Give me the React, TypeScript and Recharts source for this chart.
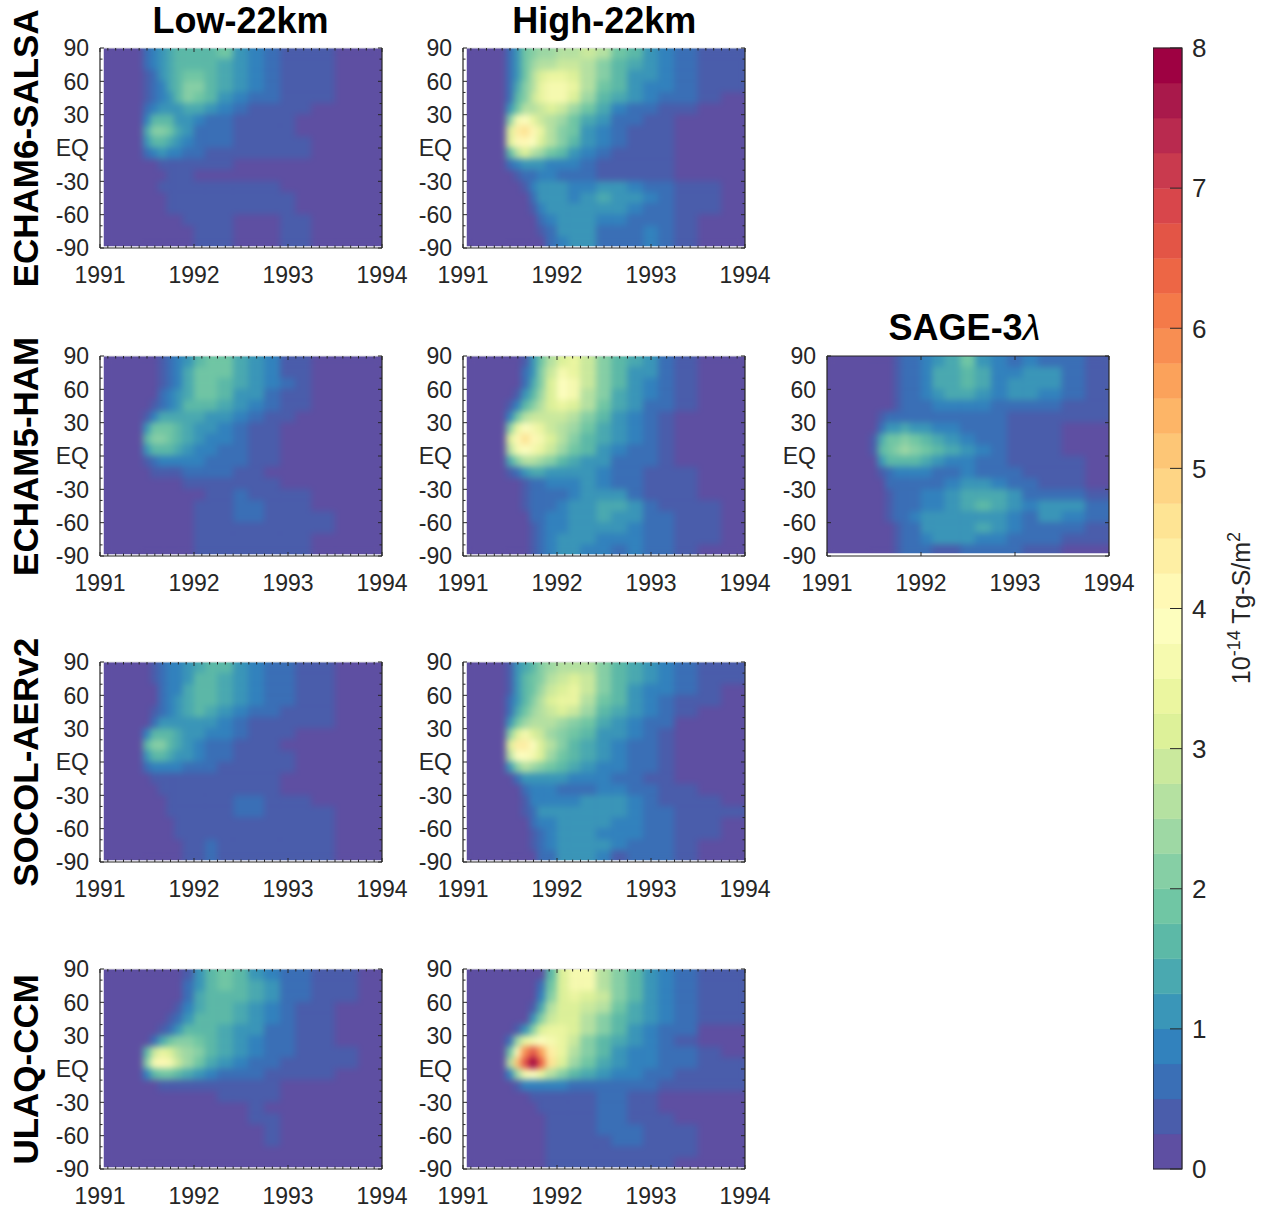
import React from "react";
import { ComposedChart, XAxis, YAxis, ReferenceArea } from "recharts";

const FONT = '"Liberation Sans", Arial, Helvetica, sans-serif';
const INK = "#262626";

// 32 contour levels, 0..8 in steps of 0.25 (x 1e-14 Tg-S/m2)
const LEVEL_STEP = 0.25;
const LEVEL_COLORS = [
  "#5e4fa2", "#4a5dab", "#3a6fb6", "#3282bd",
  "#3a96b8", "#4aa9b0", "#5cb9a7", "#70c6a4",
  "#86cfa5", "#9ed8a4", "#b5e1a1", "#cae99d",
  "#ddf199", "#ebf6a0", "#f6faaf", "#fdfebe",
  "#fff9b5", "#feefa4", "#fee494", "#fed585",
  "#fdc676", "#fdb567", "#fba25b", "#f88e52",
  "#f47a49", "#ed6645", "#e35546", "#d8464b",
  "#c93a4e", "#b92a4f", "#a9194b", "#9e0142",
];

// grid: column edges in time, row edges in latitude (north to south)
const TIME_EDGES = [
  1991.46, 1991.54, 1991.62, 1991.71, 1991.79, 1991.88, 1992.0, 1992.12, 1992.25,
  1992.42, 1992.58, 1992.75, 1992.92, 1993.08, 1993.25, 1993.5, 1993.75, 1994.0,
];
const LAT_EDGES = [90, 80, 70, 60, 50, 40, 30, 20, 10, 0, -10, -20, -30, -40, -50, -60, -70, -80, -88];

const YEAR_TICKS = [1991, 1992, 1993, 1994];
const LAT_TICKS = [-90, -60, -30, 0, 30, 60, 90];
const MONTH_TICKS = Array.from({ length: 37 }, (_, k) => 1991 + k / 12);
const LAT_MINOR_TICKS = Array.from({ length: 19 }, (_, k) => -90 + k * 10);
const CBAR_TICKS = [0, 1, 2, 3, 4, 5, 6, 7, 8];

const SALSA_LOW = [
  [0.5, 0.8, 1.2, 1.4, 1.5, 1.5, 1.5, 1.6, 1.8, 1.2, 0.8, 0.7, 0.4, 0.4, 0.4, 0.2, 0.1],
  [0.5, 0.8, 1.1, 1.4, 1.5, 1.6, 1.6, 1.5, 1.4, 1.1, 0.8, 0.7, 0.4, 0.4, 0.4, 0.2, 0.1],
  [0.4, 0.7, 1.0, 1.3, 1.6, 1.8, 1.8, 1.5, 1.3, 1.0, 0.8, 0.6, 0.4, 0.4, 0.3, 0.2, 0.1],
  [0.4, 0.6, 0.9, 1.3, 1.7, 2.0, 2.0, 1.6, 1.3, 1.0, 0.8, 0.6, 0.4, 0.4, 0.3, 0.2, 0.1],
  [0.4, 0.6, 0.9, 1.2, 1.6, 2.0, 1.9, 1.5, 1.2, 0.9, 0.6, 0.6, 0.4, 0.4, 0.3, 0.1, 0.1],
  [0.5, 0.8, 1.0, 1.0, 1.2, 1.4, 1.3, 1.0, 0.8, 0.5, 0.4, 0.4, 0.4, 0.4, 0.2, 0.1, 0.1],
  [0.9, 1.5, 1.6, 1.5, 1.2, 1.0, 0.8, 0.6, 0.5, 0.4, 0.4, 0.4, 0.3, 0.2, 0.1, 0.1, 0.1],
  [1.3, 2.0, 2.1, 1.8, 1.4, 1.0, 0.7, 0.6, 0.5, 0.4, 0.4, 0.4, 0.3, 0.2, 0.1, 0.1, 0.1],
  [1.0, 1.6, 1.6, 1.4, 1.2, 0.9, 0.7, 0.6, 0.5, 0.4, 0.4, 0.4, 0.4, 0.3, 0.2, 0.1, 0.1],
  [0.5, 0.8, 1.0, 0.9, 0.8, 0.7, 0.5, 0.4, 0.4, 0.4, 0.4, 0.4, 0.4, 0.3, 0.2, 0.1, 0.1],
  [0.1, 0.2, 0.35, 0.4, 0.4, 0.4, 0.4, 0.4, 0.3, 0.2, 0.1, 0.1, 0.1, 0.1, 0.1, 0.1, 0.1],
  [0.1, 0.1, 0.2, 0.4, 0.4, 0.3, 0.1, 0.1, 0.1, 0.1, 0.1, 0.1, 0.1, 0.1, 0.1, 0.1, 0.1],
  [0.1, 0.1, 0.25, 0.4, 0.4, 0.4, 0.4, 0.3, 0.4, 0.4, 0.4, 0.4, 0.2, 0.1, 0.1, 0.1, 0.1],
  [0.1, 0.1, 0.2, 0.35, 0.4, 0.4, 0.4, 0.4, 0.4, 0.4, 0.4, 0.4, 0.3, 0.1, 0.1, 0.1, 0.1],
  [0.1, 0.1, 0.1, 0.3, 0.4, 0.4, 0.4, 0.4, 0.4, 0.4, 0.4, 0.4, 0.4, 0.2, 0.1, 0.1, 0.1],
  [0.1, 0.1, 0.1, 0.1, 0.2, 0.3, 0.4, 0.4, 0.4, 0.2, 0.1, 0.1, 0.3, 0.3, 0.1, 0.1, 0.1],
  [0.1, 0.1, 0.1, 0.1, 0.1, 0.2, 0.4, 0.4, 0.4, 0.15, 0.1, 0.1, 0.3, 0.3, 0.1, 0.1, 0.1],
  [0.1, 0.1, 0.1, 0.1, 0.1, 0.1, 0.4, 0.4, 0.3, 0.1, 0.1, 0.1, 0.3, 0.3, 0.1, 0.1, 0.1],
];

const SALSA_HIGH = [
  [0.5, 1.2, 1.8, 2.1, 2.3, 2.4, 2.6, 2.7, 2.8, 2.6, 1.9, 1.5, 1.1, 0.9, 0.7, 0.4, 0.3],
  [0.5, 1.2, 1.9, 2.3, 2.5, 2.7, 2.9, 2.8, 2.6, 2.2, 1.7, 1.3, 1.0, 0.9, 0.7, 0.4, 0.3],
  [0.5, 1.2, 1.9, 2.5, 3.0, 3.3, 3.3, 3.0, 2.5, 2.0, 1.6, 1.2, 1.0, 0.8, 0.6, 0.4, 0.3],
  [0.6, 1.3, 2.0, 2.7, 3.3, 3.6, 3.7, 3.4, 2.6, 1.9, 1.5, 1.2, 0.9, 0.8, 0.6, 0.4, 0.3],
  [0.7, 1.5, 2.2, 2.8, 3.3, 3.6, 3.6, 3.2, 2.3, 1.7, 1.4, 1.1, 0.9, 0.7, 0.5, 0.35, 0.1],
  [1.0, 1.8, 2.5, 2.7, 2.9, 3.0, 2.8, 2.3, 1.8, 1.3, 0.9, 0.7, 0.6, 0.4, 0.3, 0.1, 0.1],
  [2.0, 3.5, 3.8, 3.4, 2.8, 2.5, 2.3, 1.9, 1.3, 1.0, 0.7, 0.5, 0.4, 0.4, 0.2, 0.1, 0.1],
  [3.2, 4.4, 4.6, 4.0, 3.3, 2.7, 2.2, 1.8, 1.2, 0.9, 0.6, 0.4, 0.4, 0.4, 0.15, 0.1, 0.1],
  [3.0, 4.2, 4.2, 3.8, 3.2, 2.5, 2.0, 1.6, 1.0, 0.8, 0.5, 0.4, 0.4, 0.4, 0.1, 0.1, 0.1],
  [1.5, 2.6, 3.0, 2.7, 2.3, 1.9, 1.5, 1.2, 0.9, 0.7, 0.45, 0.4, 0.4, 0.4, 0.1, 0.1, 0.1],
  [0.6, 0.8, 1.2, 1.2, 1.0, 0.9, 0.9, 0.8, 0.7, 0.45, 0.4, 0.4, 0.4, 0.4, 0.1, 0.1, 0.1],
  [0.1, 0.3, 0.6, 0.7, 0.8, 0.8, 0.7, 0.7, 0.5, 0.4, 0.4, 0.4, 0.4, 0.4, 0.1, 0.1, 0.1],
  [0.1, 0.1, 0.4, 0.9, 1.1, 1.2, 1.1, 0.9, 0.8, 1.1, 1.1, 0.9, 0.7, 0.5, 0.4, 0.4, 0.1],
  [0.1, 0.1, 0.2, 0.7, 1.0, 1.1, 1.0, 0.9, 1.1, 1.4, 1.2, 1.0, 0.8, 0.6, 0.4, 0.4, 0.2],
  [0.1, 0.1, 0.1, 0.4, 0.8, 1.0, 1.1, 1.1, 1.1, 1.2, 1.1, 0.9, 0.7, 0.6, 0.4, 0.35, 0.1],
  [0.1, 0.1, 0.1, 0.2, 0.6, 0.9, 1.1, 1.1, 1.0, 0.8, 0.8, 0.7, 0.7, 0.6, 0.4, 0.1, 0.1],
  [0.1, 0.1, 0.1, 0.1, 0.3, 0.7, 1.0, 1.1, 1.0, 0.7, 0.6, 0.6, 0.8, 0.6, 0.4, 0.1, 0.1],
  [0.1, 0.1, 0.1, 0.1, 0.2, 0.5, 0.9, 1.1, 1.0, 0.7, 0.6, 0.7, 0.9, 0.6, 0.4, 0.1, 0.1],
];

const HAM_LOW = [
  [0.1, 0.1, 0.3, 0.7, 0.9, 1.2, 1.6, 1.9, 1.8, 1.4, 1.1, 0.8, 0.45, 0.4, 0.1, 0.1, 0.1],
  [0.1, 0.1, 0.35, 0.7, 0.9, 1.3, 1.8, 1.9, 1.8, 1.4, 1.1, 0.8, 0.45, 0.4, 0.1, 0.1, 0.1],
  [0.1, 0.1, 0.4, 0.7, 0.9, 1.3, 1.8, 1.9, 1.7, 1.3, 1.0, 0.8, 0.5, 0.4, 0.1, 0.1, 0.1],
  [0.1, 0.2, 0.5, 0.8, 1.0, 1.4, 1.8, 1.9, 1.5, 1.2, 1.0, 0.7, 0.4, 0.4, 0.2, 0.1, 0.1],
  [0.1, 0.3, 0.6, 0.9, 1.2, 1.5, 1.7, 1.5, 1.3, 1.0, 0.8, 0.6, 0.4, 0.3, 0.1, 0.1, 0.1],
  [0.3, 0.9, 1.3, 1.3, 1.3, 1.4, 1.4, 1.2, 1.0, 0.8, 0.6, 0.4, 0.4, 0.2, 0.1, 0.1, 0.1],
  [1.0, 1.8, 1.9, 1.8, 1.6, 1.4, 1.2, 1.0, 0.9, 0.7, 0.45, 0.4, 0.1, 0.1, 0.1, 0.1, 0.1],
  [1.6, 2.1, 2.1, 1.9, 1.6, 1.4, 1.1, 0.9, 0.8, 0.6, 0.4, 0.4, 0.1, 0.1, 0.1, 0.1, 0.1],
  [1.1, 1.6, 1.7, 1.6, 1.4, 1.2, 0.9, 0.8, 0.7, 0.6, 0.4, 0.4, 0.1, 0.1, 0.1, 0.1, 0.1],
  [0.4, 0.7, 0.9, 0.9, 0.9, 0.8, 0.8, 0.7, 0.6, 0.55, 0.4, 0.3, 0.1, 0.1, 0.1, 0.1, 0.1],
  [0.1, 0.3, 0.4, 0.4, 0.45, 0.5, 0.5, 0.5, 0.5, 0.4, 0.4, 0.1, 0.1, 0.1, 0.1, 0.1, 0.1],
  [0.1, 0.1, 0.1, 0.1, 0.2, 0.3, 0.4, 0.4, 0.4, 0.4, 0.4, 0.3, 0.1, 0.1, 0.1, 0.1, 0.1],
  [0.1, 0.1, 0.1, 0.1, 0.1, 0.1, 0.1, 0.3, 0.4, 0.5, 0.45, 0.4, 0.4, 0.3, 0.1, 0.1, 0.1],
  [0.1, 0.1, 0.1, 0.1, 0.1, 0.1, 0.3, 0.4, 0.4, 0.6, 0.6, 0.4, 0.4, 0.4, 0.2, 0.1, 0.1],
  [0.1, 0.1, 0.1, 0.1, 0.1, 0.2, 0.4, 0.4, 0.4, 0.6, 0.55, 0.4, 0.4, 0.4, 0.3, 0.1, 0.1],
  [0.1, 0.1, 0.1, 0.1, 0.1, 0.2, 0.4, 0.4, 0.4, 0.4, 0.4, 0.4, 0.4, 0.4, 0.3, 0.1, 0.1],
  [0.1, 0.1, 0.1, 0.1, 0.1, 0.2, 0.4, 0.4, 0.4, 0.4, 0.4, 0.4, 0.4, 0.4, 0.2, 0.1, 0.1],
  [0.1, 0.1, 0.1, 0.1, 0.1, 0.2, 0.4, 0.4, 0.4, 0.4, 0.4, 0.4, 0.4, 0.4, 0.2, 0.1, 0.1],
];

const HAM_HIGH = [
  [0.1, 0.1, 0.4, 1.0, 1.8, 2.5, 3.2, 3.3, 2.8, 2.2, 1.7, 1.3, 1.0, 0.6, 0.4, 0.1, 0.1],
  [0.1, 0.1, 0.5, 1.2, 2.0, 2.8, 3.5, 3.4, 2.8, 2.2, 1.6, 1.2, 1.0, 0.6, 0.4, 0.1, 0.1],
  [0.1, 0.2, 0.7, 1.4, 2.2, 3.0, 3.8, 3.6, 2.8, 2.1, 1.5, 1.1, 0.9, 0.6, 0.4, 0.1, 0.1],
  [0.1, 0.4, 1.0, 1.6, 2.4, 3.1, 3.9, 3.6, 2.7, 2.0, 1.4, 1.1, 0.8, 0.6, 0.4, 0.1, 0.1],
  [0.3, 0.9, 1.5, 2.0, 2.6, 3.1, 3.4, 3.1, 2.5, 1.8, 1.3, 1.0, 0.7, 0.5, 0.4, 0.1, 0.1],
  [0.9, 1.8, 2.5, 2.8, 2.9, 2.9, 2.9, 2.6, 2.1, 1.6, 1.2, 0.9, 0.7, 0.45, 0.2, 0.1, 0.1],
  [2.2, 3.3, 3.8, 3.7, 3.3, 2.9, 2.6, 2.3, 1.9, 1.4, 1.1, 0.9, 0.7, 0.4, 0.1, 0.1, 0.1],
  [3.2, 4.1, 4.5, 4.2, 3.6, 3.0, 2.6, 2.2, 1.7, 1.3, 1.0, 0.8, 0.6, 0.4, 0.1, 0.1, 0.1],
  [2.7, 3.6, 3.9, 3.7, 3.3, 2.8, 2.3, 1.9, 1.5, 1.2, 0.9, 0.7, 0.6, 0.4, 0.1, 0.1, 0.1],
  [1.4, 2.2, 2.6, 2.6, 2.4, 2.1, 1.7, 1.4, 1.2, 1.0, 0.7, 0.6, 0.5, 0.4, 0.15, 0.1, 0.1],
  [0.3, 0.7, 1.1, 1.3, 1.3, 1.2, 1.1, 1.0, 1.0, 0.9, 0.6, 0.5, 0.4, 0.4, 0.3, 0.1, 0.1],
  [0.1, 0.2, 0.4, 0.6, 0.7, 0.8, 0.9, 0.9, 1.0, 0.9, 0.6, 0.5, 0.4, 0.4, 0.35, 0.1, 0.1],
  [0.1, 0.1, 0.3, 0.6, 0.7, 0.7, 0.7, 0.9, 1.1, 1.2, 1.1, 0.7, 0.4, 0.4, 0.4, 0.15, 0.1],
  [0.1, 0.1, 0.25, 0.6, 0.7, 0.7, 0.8, 1.0, 1.2, 1.4, 1.3, 1.0, 0.7, 0.4, 0.4, 0.3, 0.1],
  [0.1, 0.1, 0.2, 0.5, 0.7, 0.8, 0.8, 1.0, 1.2, 1.3, 1.2, 1.0, 0.7, 0.5, 0.4, 0.35, 0.1],
  [0.1, 0.1, 0.1, 0.4, 0.7, 0.9, 0.9, 1.0, 1.1, 1.1, 1.0, 0.9, 0.7, 0.55, 0.4, 0.3, 0.1],
  [0.1, 0.1, 0.1, 0.4, 0.6, 0.9, 1.0, 1.0, 1.0, 0.9, 0.8, 0.8, 0.6, 0.5, 0.4, 0.25, 0.1],
  [0.1, 0.1, 0.1, 0.3, 0.6, 0.9, 1.0, 1.0, 0.9, 0.8, 0.7, 0.9, 0.6, 0.5, 0.4, 0.2, 0.1],
];

const SAGE = [
  [0.1, 0.1, 0.1, 0.4, 0.6, 0.7, 0.9, 1.2, 1.3, 1.8, 1.2, 0.9, 0.7, 0.8, 0.7, 0.6, 0.3],
  [0.1, 0.1, 0.1, 0.4, 0.6, 0.7, 0.9, 1.3, 1.4, 1.7, 1.3, 0.9, 0.8, 1.1, 1.2, 0.6, 0.4],
  [0.1, 0.1, 0.1, 0.4, 0.5, 0.7, 0.9, 1.3, 1.4, 1.6, 1.3, 0.9, 1.1, 1.2, 1.1, 0.7, 0.4],
  [0.1, 0.1, 0.1, 0.4, 0.5, 0.7, 0.8, 1.1, 1.3, 1.3, 1.0, 0.8, 1.1, 1.2, 0.9, 0.6, 0.4],
  [0.1, 0.1, 0.1, 0.4, 0.5, 0.6, 0.7, 0.8, 0.9, 0.9, 0.8, 0.7, 0.6, 0.6, 0.5, 0.4, 0.4],
  [0.1, 0.3, 0.5, 0.6, 0.6, 0.6, 0.6, 0.7, 0.7, 0.7, 0.7, 0.6, 0.4, 0.4, 0.4, 0.4, 0.4],
  [0.2, 0.6, 1.0, 1.2, 1.3, 1.2, 1.1, 0.9, 0.8, 0.7, 0.7, 0.6, 0.4, 0.4, 0.3, 0.2, 0.2],
  [0.3, 1.4, 1.8, 1.9, 2.0, 1.9, 1.7, 1.4, 1.2, 0.9, 0.7, 0.6, 0.4, 0.4, 0.4, 0.2, 0.2],
  [0.4, 1.6, 1.9, 2.1, 2.3, 2.2, 1.9, 1.6, 1.3, 1.0, 0.8, 0.6, 0.4, 0.4, 0.4, 0.2, 0.2],
  [0.2, 1.0, 1.5, 1.7, 1.6, 1.5, 1.3, 1.0, 0.8, 0.9, 0.7, 0.6, 0.4, 0.4, 0.4, 0.3, 0.15],
  [0.1, 0.4, 0.7, 0.8, 0.8, 0.9, 0.8, 0.6, 0.7, 0.8, 0.7, 0.7, 0.6, 0.4, 0.4, 0.4, 0.15],
  [0.1, 0.2, 0.5, 0.6, 0.6, 0.7, 0.7, 0.7, 0.8, 1.0, 1.0, 0.8, 0.7, 0.6, 0.4, 0.4, 0.2],
  [0.1, 0.1, 0.4, 0.6, 0.6, 0.7, 0.8, 0.9, 1.0, 1.3, 1.4, 1.3, 1.0, 0.7, 0.6, 0.5, 0.4],
  [0.1, 0.1, 0.4, 0.5, 0.6, 0.7, 0.9, 0.9, 1.0, 1.3, 1.6, 1.3, 1.0, 0.8, 1.2, 1.0, 0.6],
  [0.1, 0.1, 0.3, 0.5, 0.6, 0.8, 1.0, 1.0, 1.0, 1.1, 1.1, 1.0, 0.8, 0.7, 1.1, 0.9, 0.5],
  [0.1, 0.1, 0.1, 0.4, 0.6, 0.7, 1.0, 1.1, 1.0, 1.2, 1.3, 1.2, 0.9, 0.7, 0.6, 0.5, 0.4],
  [0.1, 0.1, 0.1, 0.4, 0.6, 0.7, 0.9, 1.0, 1.0, 1.1, 0.9, 0.8, 0.7, 0.6, 0.5, 0.4, 0.3],
  [0.1, 0.1, 0.1, 0.3, 0.5, 0.6, 0.7, 0.4, 0.4, 0.7, 0.7, 0.7, 0.6, 0.4, 0.4, 0.2, 0.1],
];

const SOCOL_LOW = [
  [0.1, 0.4, 0.7, 0.8, 0.9, 1.2, 1.4, 1.6, 1.5, 1.2, 0.9, 0.7, 0.6, 0.4, 0.4, 0.1, 0.1],
  [0.1, 0.3, 0.7, 0.8, 0.9, 1.2, 1.5, 1.7, 1.4, 1.1, 0.9, 0.7, 0.6, 0.4, 0.4, 0.1, 0.1],
  [0.1, 0.2, 0.6, 0.8, 0.9, 1.3, 1.6, 1.6, 1.4, 1.1, 0.8, 0.7, 0.6, 0.4, 0.4, 0.1, 0.1],
  [0.1, 0.2, 0.5, 0.8, 1.0, 1.3, 1.7, 1.6, 1.3, 1.0, 0.8, 0.7, 0.55, 0.4, 0.4, 0.1, 0.1],
  [0.1, 0.3, 0.6, 0.8, 1.0, 1.3, 1.5, 1.3, 1.1, 0.9, 0.7, 0.6, 0.4, 0.4, 0.3, 0.1, 0.1],
  [0.2, 0.7, 1.0, 1.1, 1.1, 1.1, 1.1, 1.0, 0.9, 0.7, 0.45, 0.4, 0.4, 0.4, 0.3, 0.1, 0.1],
  [0.9, 1.5, 1.6, 1.5, 1.4, 1.1, 1.0, 0.9, 0.8, 0.6, 0.4, 0.4, 0.3, 0.1, 0.1, 0.1, 0.1],
  [1.5, 2.1, 2.0, 1.7, 1.4, 1.1, 0.9, 0.7, 0.6, 0.45, 0.4, 0.4, 0.2, 0.1, 0.1, 0.1, 0.1],
  [1.1, 1.6, 1.5, 1.4, 1.2, 1.0, 0.8, 0.6, 0.5, 0.4, 0.4, 0.4, 0.3, 0.1, 0.1, 0.1, 0.1],
  [0.5, 0.8, 0.9, 0.9, 0.8, 0.7, 0.6, 0.55, 0.4, 0.4, 0.4, 0.4, 0.3, 0.1, 0.1, 0.1, 0.1],
  [0.1, 0.3, 0.4, 0.4, 0.45, 0.45, 0.4, 0.4, 0.4, 0.4, 0.4, 0.3, 0.1, 0.1, 0.1, 0.1, 0.1],
  [0.1, 0.1, 0.3, 0.4, 0.4, 0.4, 0.4, 0.4, 0.4, 0.4, 0.4, 0.4, 0.2, 0.1, 0.1, 0.1, 0.1],
  [0.1, 0.1, 0.2, 0.4, 0.4, 0.4, 0.4, 0.4, 0.4, 0.5, 0.5, 0.4, 0.4, 0.35, 0.1, 0.1, 0.1],
  [0.1, 0.1, 0.1, 0.3, 0.4, 0.4, 0.4, 0.4, 0.4, 0.6, 0.6, 0.4, 0.4, 0.4, 0.35, 0.1, 0.1],
  [0.1, 0.1, 0.1, 0.2, 0.4, 0.4, 0.4, 0.4, 0.4, 0.45, 0.45, 0.4, 0.4, 0.4, 0.4, 0.1, 0.1],
  [0.1, 0.1, 0.1, 0.1, 0.3, 0.4, 0.4, 0.4, 0.4, 0.4, 0.4, 0.4, 0.4, 0.4, 0.35, 0.1, 0.1],
  [0.1, 0.1, 0.1, 0.1, 0.2, 0.4, 0.4, 0.55, 0.4, 0.4, 0.4, 0.4, 0.4, 0.4, 0.3, 0.1, 0.1],
  [0.1, 0.1, 0.1, 0.1, 0.1, 0.3, 0.4, 0.6, 0.4, 0.4, 0.4, 0.4, 0.4, 0.4, 0.3, 0.1, 0.1],
];

const SOCOL_HIGH = [
  [0.3, 1.0, 1.4, 1.7, 2.0, 2.3, 2.5, 2.7, 2.6, 2.2, 1.7, 1.3, 1.0, 0.8, 0.6, 0.4, 0.3],
  [0.4, 1.0, 1.5, 1.8, 2.1, 2.5, 2.9, 3.1, 2.8, 2.2, 1.7, 1.3, 1.0, 0.8, 0.6, 0.4, 0.3],
  [0.4, 1.0, 1.5, 1.9, 2.3, 2.8, 3.2, 3.3, 2.8, 2.1, 1.6, 1.2, 0.9, 0.8, 0.6, 0.4, 0.2],
  [0.5, 1.1, 1.7, 2.1, 2.5, 3.0, 3.4, 3.3, 2.7, 1.9, 1.5, 1.1, 0.9, 0.7, 0.45, 0.3, 0.1],
  [0.6, 1.3, 1.9, 2.3, 2.6, 2.9, 3.0, 2.8, 2.3, 1.7, 1.3, 1.0, 0.8, 0.6, 0.3, 0.1, 0.1],
  [1.0, 1.8, 2.3, 2.5, 2.5, 2.5, 2.4, 2.2, 1.8, 1.4, 1.1, 0.9, 0.7, 0.5, 0.1, 0.1, 0.1],
  [2.0, 3.2, 3.6, 3.2, 2.8, 2.4, 2.1, 1.8, 1.5, 1.2, 1.0, 0.8, 0.6, 0.45, 0.1, 0.1, 0.1],
  [3.0, 4.3, 4.4, 3.9, 3.2, 2.6, 2.1, 1.7, 1.4, 1.1, 0.9, 0.7, 0.6, 0.45, 0.1, 0.1, 0.1],
  [2.6, 3.8, 3.9, 3.5, 3.0, 2.4, 1.9, 1.6, 1.3, 1.1, 0.9, 0.7, 0.6, 0.4, 0.1, 0.1, 0.1],
  [1.2, 2.2, 2.5, 2.4, 2.2, 1.8, 1.5, 1.3, 1.1, 0.9, 0.8, 0.6, 0.5, 0.4, 0.2, 0.1, 0.1],
  [0.2, 0.7, 1.1, 1.2, 1.2, 1.1, 1.0, 0.9, 0.9, 0.8, 0.7, 0.6, 0.45, 0.4, 0.2, 0.1, 0.1],
  [0.1, 0.2, 0.6, 0.8, 0.8, 0.8, 0.6, 0.6, 0.7, 0.8, 0.8, 0.6, 0.5, 0.4, 0.4, 0.2, 0.1],
  [0.1, 0.1, 0.4, 0.8, 0.9, 0.9, 0.8, 0.9, 1.1, 1.1, 1.0, 0.8, 0.6, 0.4, 0.4, 0.4, 0.2],
  [0.1, 0.1, 0.3, 0.7, 1.0, 1.1, 1.0, 1.1, 1.2, 1.2, 1.1, 0.8, 0.6, 0.5, 0.4, 0.4, 0.3],
  [0.1, 0.1, 0.2, 0.6, 0.8, 0.9, 1.0, 1.1, 1.1, 1.0, 0.9, 0.8, 0.6, 0.5, 0.4, 0.35, 0.1],
  [0.1, 0.1, 0.1, 0.4, 0.7, 0.9, 1.1, 1.1, 1.1, 0.9, 0.8, 0.8, 0.7, 0.5, 0.4, 0.3, 0.1],
  [0.1, 0.1, 0.1, 0.3, 0.6, 0.8, 1.1, 1.2, 1.1, 1.0, 0.8, 0.7, 0.7, 0.5, 0.4, 0.2, 0.1],
  [0.1, 0.1, 0.1, 0.1, 0.5, 0.7, 1.1, 1.2, 1.1, 0.8, 0.4, 0.7, 0.7, 0.6, 0.4, 0.2, 0.1],
];

const ULAQ_LOW = [
  [0.1, 0.1, 0.1, 0.1, 0.1, 0.4, 1.1, 1.6, 1.9, 1.6, 1.2, 0.9, 0.7, 0.6, 0.4, 0.4, 0.1],
  [0.1, 0.1, 0.1, 0.1, 0.1, 0.5, 1.2, 1.7, 1.9, 1.6, 1.3, 1.0, 0.7, 0.6, 0.4, 0.4, 0.15],
  [0.1, 0.1, 0.1, 0.1, 0.1, 0.6, 1.3, 1.6, 1.7, 1.6, 1.3, 1.0, 0.7, 0.55, 0.4, 0.4, 0.2],
  [0.1, 0.1, 0.1, 0.1, 0.3, 0.9, 1.4, 1.6, 1.6, 1.4, 1.2, 0.9, 0.7, 0.45, 0.4, 0.1, 0.1],
  [0.1, 0.1, 0.1, 0.3, 0.7, 1.2, 1.6, 1.6, 1.5, 1.3, 1.1, 0.8, 0.6, 0.4, 0.35, 0.1, 0.1],
  [0.1, 0.1, 0.3, 0.7, 1.1, 1.5, 1.7, 1.6, 1.4, 1.2, 1.0, 0.7, 0.55, 0.4, 0.35, 0.1, 0.1],
  [0.2, 0.7, 1.3, 1.8, 2.0, 2.0, 1.9, 1.6, 1.3, 1.1, 0.9, 0.7, 0.5, 0.4, 0.4, 0.1, 0.1],
  [1.6, 2.8, 3.3, 3.0, 2.6, 2.3, 2.0, 1.6, 1.3, 1.0, 0.8, 0.6, 0.5, 0.4, 0.4, 0.3, 0.1],
  [2.2, 3.6, 4.2, 3.7, 2.9, 2.3, 1.8, 1.4, 1.1, 0.9, 0.7, 0.6, 0.45, 0.4, 0.4, 0.35, 0.1],
  [0.8, 1.6, 1.9, 1.8, 1.6, 1.3, 1.0, 0.8, 0.7, 0.6, 0.5, 0.4, 0.4, 0.4, 0.3, 0.1, 0.1],
  [0.1, 0.2, 0.4, 0.4, 0.45, 0.4, 0.4, 0.4, 0.4, 0.4, 0.4, 0.4, 0.2, 0.1, 0.1, 0.1, 0.1],
  [0.1, 0.1, 0.1, 0.1, 0.1, 0.1, 0.1, 0.2, 0.35, 0.4, 0.4, 0.3, 0.1, 0.1, 0.1, 0.1, 0.1],
  [0.1, 0.1, 0.1, 0.1, 0.1, 0.1, 0.1, 0.1, 0.1, 0.2, 0.4, 0.2, 0.1, 0.1, 0.1, 0.1, 0.1],
  [0.1, 0.1, 0.1, 0.1, 0.1, 0.1, 0.1, 0.1, 0.1, 0.1, 0.35, 0.3, 0.1, 0.1, 0.1, 0.1, 0.1],
  [0.1, 0.1, 0.1, 0.1, 0.1, 0.1, 0.1, 0.1, 0.1, 0.1, 0.2, 0.4, 0.1, 0.1, 0.1, 0.1, 0.1],
  [0.1, 0.1, 0.1, 0.1, 0.1, 0.1, 0.1, 0.1, 0.1, 0.1, 0.1, 0.35, 0.1, 0.1, 0.1, 0.1, 0.1],
  [0.1, 0.1, 0.1, 0.1, 0.1, 0.1, 0.1, 0.1, 0.1, 0.1, 0.1, 0.1, 0.1, 0.1, 0.1, 0.1, 0.1],
  [0.1, 0.1, 0.1, 0.1, 0.1, 0.1, 0.1, 0.1, 0.1, 0.1, 0.1, 0.1, 0.1, 0.1, 0.1, 0.1, 0.1],
];

const ULAQ_HIGH = [
  [0.1, 0.1, 0.1, 0.1, 0.2, 1.5, 3.0, 3.6, 3.7, 2.6, 2.0, 1.5, 1.2, 0.9, 0.5, 0.4, 0.4],
  [0.1, 0.1, 0.1, 0.1, 0.5, 1.8, 3.1, 3.5, 3.5, 2.7, 2.1, 1.5, 1.2, 0.9, 0.6, 0.4, 0.4],
  [0.1, 0.1, 0.1, 0.1, 0.9, 2.2, 3.1, 3.3, 3.1, 2.8, 2.0, 1.5, 1.1, 0.8, 0.6, 0.4, 0.4],
  [0.1, 0.1, 0.1, 0.3, 1.4, 2.6, 3.1, 3.1, 2.9, 2.6, 1.9, 1.4, 1.0, 0.8, 0.6, 0.4, 0.4],
  [0.1, 0.1, 0.2, 1.0, 2.1, 2.9, 3.2, 3.1, 2.7, 2.2, 1.7, 1.3, 1.0, 0.8, 0.6, 0.4, 0.4],
  [0.1, 0.3, 1.2, 2.2, 3.0, 3.3, 3.3, 3.0, 2.5, 2.0, 1.5, 1.1, 0.9, 0.7, 0.5, 0.2, 0.2],
  [0.6, 2.3, 3.4, 3.7, 3.8, 3.6, 3.3, 2.8, 2.2, 1.7, 1.3, 1.0, 0.8, 0.6, 0.45, 0.2, 0.2],
  [1.8, 4.2, 5.8, 6.5, 5.6, 4.3, 3.3, 2.6, 2.0, 1.5, 1.1, 0.9, 0.8, 0.7, 0.6, 0.4, 0.2],
  [2.5, 5.0, 6.6, 7.9, 6.4, 4.6, 3.2, 2.3, 1.8, 1.4, 1.1, 0.9, 0.8, 0.7, 0.6, 0.4, 0.4],
  [0.8, 2.3, 3.6, 3.8, 3.4, 2.7, 2.1, 1.6, 1.3, 1.0, 0.9, 0.8, 0.7, 0.6, 0.45, 0.4, 0.4],
  [0.1, 0.4, 0.8, 0.9, 0.9, 0.9, 0.8, 0.7, 0.6, 0.6, 0.7, 0.6, 0.5, 0.4, 0.4, 0.4, 0.35],
  [0.1, 0.1, 0.2, 0.4, 0.4, 0.4, 0.4, 0.4, 0.4, 0.6, 0.5, 0.4, 0.4, 0.2, 0.1, 0.1, 0.1],
  [0.1, 0.1, 0.1, 0.1, 0.3, 0.4, 0.4, 0.4, 0.4, 0.6, 0.6, 0.4, 0.3, 0.1, 0.1, 0.1, 0.1],
  [0.1, 0.1, 0.1, 0.1, 0.2, 0.4, 0.4, 0.4, 0.4, 0.5, 0.6, 0.4, 0.4, 0.25, 0.2, 0.1, 0.1],
  [0.1, 0.1, 0.1, 0.1, 0.2, 0.35, 0.4, 0.4, 0.4, 0.5, 0.7, 0.5, 0.4, 0.4, 0.3, 0.1, 0.1],
  [0.1, 0.1, 0.1, 0.1, 0.1, 0.3, 0.4, 0.4, 0.4, 0.4, 0.6, 0.5, 0.4, 0.4, 0.3, 0.1, 0.1],
  [0.1, 0.1, 0.1, 0.1, 0.1, 0.3, 0.4, 0.4, 0.4, 0.4, 0.4, 0.4, 0.4, 0.4, 0.25, 0.1, 0.1],
  [0.1, 0.1, 0.1, 0.1, 0.1, 0.3, 0.4, 0.4, 0.4, 0.4, 0.4, 0.4, 0.4, 0.4, 0.2, 0.1, 0.1],
];

// panel geometry
const PLOT_W = 282;
const PLOT_H = 200;
const M_LEFT = 72;
const M_TOP = 20;
const M_RIGHT = 34;
const M_BOTTOM = 46;
const CHART_W = M_LEFT + PLOT_W + M_RIGHT;
const CHART_H = M_TOP + PLOT_H + M_BOTTOM;
const TICK_FONT = 23;

const COL_LEFT = [99.5, 463.3, 826.5];
const ROW_TOP = [48.3, 356.3, 662.3, 969.3];

const levelColor = (v: number) =>
  LEVEL_COLORS[Math.min(LEVEL_COLORS.length - 1, Math.max(0, Math.floor(v / LEVEL_STEP)))];

const isWhole = (v: number, step: number) => Math.abs(v / step - Math.round(v / step)) < 1e-6;

const bottomTick = (props: any) => {
  const { x, payload } = props;
  const v = payload.value;
  const major = isWhole(v, 1);
  const y0 = M_TOP + PLOT_H;
  return (
    <g>
      <line x1={x} x2={x} y1={y0} y2={y0 - (major ? 4 : 2.5)} stroke={INK} strokeWidth={1} />
      {major && (
        <text x={x} y={y0 + 35} textAnchor="middle" fontSize={TICK_FONT} fill={INK} fontFamily={FONT}>
          {Math.round(v)}
        </text>
      )}
    </g>
  );
};

const topTick = (props: any) => {
  const { x, payload } = props;
  const major = isWhole(payload.value, 1);
  return <line x1={x} x2={x} y1={M_TOP} y2={M_TOP + (major ? 4 : 2.5)} stroke={INK} strokeWidth={1} />;
};

const leftTick = (props: any) => {
  const { y, payload } = props;
  const v = payload.value;
  const major = isWhole(v, 30);
  return (
    <g>
      <line x1={M_LEFT} x2={M_LEFT + (major ? 4 : 2.5)} y1={y} y2={y} stroke={INK} strokeWidth={1} />
      {major && (
        <text x={M_LEFT - 11} y={y} dy="0.36em" textAnchor="end" fontSize={TICK_FONT} fill={INK} fontFamily={FONT}>
          {v === 0 ? "EQ" : v}
        </text>
      )}
    </g>
  );
};

const rightTick = (props: any) => {
  const { y, payload } = props;
  const major = isWhole(payload.value, 30);
  const x0 = M_LEFT + PLOT_W;
  return <line x1={x0} x2={x0 - (major ? 4 : 2.5)} y1={y} y2={y} stroke={INK} strokeWidth={1} />;
};

function toCells(rows: number[][]) {
  return rows.flatMap((row, i) =>
    row.map((v, j) => ({
      x1: TIME_EDGES[j],
      x2: TIME_EDGES[j + 1],
      y1: LAT_EDGES[i + 1],
      y2: LAT_EDGES[i],
      t: (TIME_EDGES[j] + TIME_EDGES[j + 1]) / 2,
      lat: (LAT_EDGES[i] + LAT_EDGES[i + 1]) / 2,
      v,
    }))
  );
}

// the filled field, drawn in its own chart so it can be softened like a contour fill
function Field({ cells, col, row, obs }: { cells: any[]; col: number; row: number; obs: boolean }) {
  return (
    <div
      style={{
        position: "absolute",
        left: COL_LEFT[col],
        top: ROW_TOP[row],
        width: PLOT_W,
        height: PLOT_H,
        overflow: "hidden",
        filter: "url(#soft-field)",
      }}
    >
      <ComposedChart width={PLOT_W} height={PLOT_H} data={cells} margin={{ top: 0, right: 0, bottom: 0, left: 0 }}>
        <ReferenceArea
          x1={obs ? 1991 : 1991.04}
          x2={1994}
          y1={-88}
          y2={90}
          fill={LEVEL_COLORS[0]}
          fillOpacity={1}
          stroke="none"
          ifOverflow="visible"
        />
        {cells.map((c, k) => {
          const color = levelColor(c.v);
          return (
            <ReferenceArea
              key={k}
              x1={c.x1}
              x2={c.x2}
              y1={c.y1}
              y2={c.y2}
              fill={color}
              fillOpacity={1}
              stroke={color}
              strokeWidth={0.6}
              ifOverflow="visible"
            />
          );
        })}
        <XAxis dataKey="t" type="number" domain={[1991, 1994]} allowDataOverflow hide />
        <YAxis dataKey="lat" type="number" domain={[-90, 90]} allowDataOverflow hide />
      </ComposedChart>
    </div>
  );
}

function Panel({ rows, col, row, obs = false }: { rows: number[][]; col: number; row: number; obs?: boolean }) {
  const cells = toCells(rows);
  const xTicks = obs ? YEAR_TICKS : MONTH_TICKS;
  const yTicks = obs ? LAT_TICKS : LAT_MINOR_TICKS;
  return (
    <>
      <Field cells={cells} col={col} row={row} obs={obs} />
      <div style={{ position: "absolute", left: COL_LEFT[col] - M_LEFT, top: ROW_TOP[row] - M_TOP }}>
        <ComposedChart
          width={CHART_W}
          height={CHART_H}
          data={cells}
          margin={{ top: M_TOP - 1, right: M_RIGHT - 1, bottom: 0, left: 0 }}
        >
          {/* no-data margins of the model grids stay white */}
          {!obs && (
            <ReferenceArea xAxisId="b" yAxisId="l" x1={1991} x2={1991.04} y1={-90} y2={90} fill="#fff" fillOpacity={1} stroke="none" />
          )}
          <ReferenceArea xAxisId="b" yAxisId="l" x1={1991} x2={1994} y1={-90} y2={obs ? -87.5 : -88.5} fill="#fff" fillOpacity={1} stroke="none" />
          <XAxis
            xAxisId="b"
            dataKey="t"
            type="number"
            domain={[1991, 1994]}
            allowDataOverflow
            ticks={xTicks}
            interval={0}
            height={M_BOTTOM}
            tickLine={false}
            axisLine={{ stroke: INK, strokeWidth: 1.2 }}
            tick={bottomTick}
          />
          <XAxis
            xAxisId="t"
            dataKey="t"
            orientation="top"
            type="number"
            domain={[1991, 1994]}
            allowDataOverflow
            ticks={xTicks}
            interval={0}
            height={1}
            tickLine={false}
            axisLine={{ stroke: obs ? INK : "#e4e4e4", strokeWidth: 1.2 }}
            tick={topTick}
          />
          <YAxis
            yAxisId="l"
            dataKey="lat"
            type="number"
            domain={[-90, 90]}
            allowDataOverflow
            ticks={yTicks}
            interval={0}
            width={M_LEFT}
            tickLine={false}
            axisLine={{ stroke: INK, strokeWidth: 1.2 }}
            tick={leftTick}
          />
          <YAxis
            yAxisId="r"
            dataKey="lat"
            orientation="right"
            type="number"
            domain={[-90, 90]}
            allowDataOverflow
            ticks={yTicks}
            interval={0}
            width={1}
            tickLine={false}
            axisLine={{ stroke: INK, strokeWidth: 1.2 }}
            tick={rightTick}
          />
        </ComposedChart>
      </div>
    </>
  );
}

// colorbar geometry
const CB_LEFT = 1153;
const CB_TOP = 48;
const CB_W = 29;
const CB_H = 1121;
const CB_PAD = 20;

const cbarTick = (props: any) => {
  const { y, payload } = props;
  return (
    <g>
      <line x1={CB_W} x2={CB_W - 12} y1={y} y2={y} stroke={INK} strokeWidth={1} />
      <text x={CB_W + 10} y={y} dy="0.36em" textAnchor="start" fontSize={26} fill={INK} fontFamily={FONT}>
        {payload.value}
      </text>
    </g>
  );
};

function ColorBar() {
  const bands = LEVEL_COLORS.map((c, i) => ({
    x: 0.5,
    mid: (i + 0.5) * LEVEL_STEP,
    lo: i * LEVEL_STEP,
    hi: (i + 1) * LEVEL_STEP,
    c,
  }));
  return (
    <div style={{ position: "absolute", left: CB_LEFT, top: CB_TOP - CB_PAD }}>
      <ComposedChart
        width={CB_W + 70}
        height={CB_H + 2 * CB_PAD}
        data={bands}
        margin={{ top: CB_PAD, right: 0, bottom: CB_PAD, left: 0 }}
      >
        {bands.map((b, i) => (
          <ReferenceArea
            key={i}
            x1={0}
            x2={1}
            y1={b.lo}
            y2={b.hi}
            fill={b.c}
            fillOpacity={1}
            stroke={b.c}
            strokeWidth={0.5}
            ifOverflow="visible"
          />
        ))}
        <ReferenceArea x1={0} x2={1} y1={0} y2={8} fill="none" stroke={INK} strokeWidth={1.2} ifOverflow="visible" />
        <XAxis dataKey="x" type="number" domain={[0, 1]} allowDataOverflow hide />
        <YAxis
          dataKey="mid"
          type="number"
          orientation="right"
          domain={[0, 8]}
          allowDataOverflow
          ticks={CBAR_TICKS}
          interval={0}
          width={70}
          axisLine={false}
          tickLine={false}
          tick={cbarTick}
        />
      </ComposedChart>
    </div>
  );
}

const ROW_LABELS = ["ECHAM6-SALSA", "ECHAM5-HAM", "SOCOL-AERv2", "ULAQ-CCM"];

function Labels() {
  return (
    <svg
      width={1268}
      height={1211}
      style={{ position: "absolute", left: 0, top: 0, pointerEvents: "none" }}
      fontFamily={FONT}
    >
      <text x={COL_LEFT[0] + PLOT_W / 2} y={33} textAnchor="middle" fontSize={36} fontWeight={700} fill="#000">
        Low-22km
      </text>
      <text x={COL_LEFT[1] + PLOT_W / 2} y={33} textAnchor="middle" fontSize={36} fontWeight={700} fill="#000">
        High-22km
      </text>
      <text x={COL_LEFT[2] + PLOT_W / 2 - 3} y={340} textAnchor="middle" fontSize={36} fontWeight={700} fill="#000">
        SAGE-3<tspan fontStyle="italic" fontWeight={400}>λ</tspan>
      </text>
      {ROW_LABELS.map((name, i) => (
        <text
          key={name}
          transform={`translate(38, ${ROW_TOP[i] + PLOT_H / 2}) rotate(-90)`}
          textAnchor="middle"
          fontSize={35}
          fontWeight={700}
          fill="#000"
        >
          {name}
        </text>
      ))}
      <text transform="translate(1250, 608) rotate(-90)" textAnchor="middle" fontSize={25} fill={INK}>
        10<tspan dy={-10} fontSize={18}>-14</tspan>
        <tspan dy={10}> Tg-S/m</tspan>
        <tspan dy={-10} fontSize={18}>2</tspan>
      </text>
    </svg>
  );
}

export default function App() {
  return (
    <div style={{ position: "absolute", left: 0, top: 0, width: 1268, height: 1211, background: "#fff" }}>
      <svg width={0} height={0} style={{ position: "absolute", left: 0, top: 0 }}>
        <defs>
          <filter id="soft-field" x="0" y="0" width="1" height="1" colorInterpolationFilters="sRGB">
            <feGaussianBlur stdDeviation={3} />
            <feComponentTransfer>
              <feFuncA type="table" tableValues="0 1 1 1 1 1 1 1 1 1 1 1" />
            </feComponentTransfer>
          </filter>
        </defs>
      </svg>
      <Panel rows={SALSA_LOW} col={0} row={0} />
      <Panel rows={SALSA_HIGH} col={1} row={0} />
      <Panel rows={HAM_LOW} col={0} row={1} />
      <Panel rows={HAM_HIGH} col={1} row={1} />
      <Panel rows={SAGE} col={2} row={1} obs />
      <Panel rows={SOCOL_LOW} col={0} row={2} />
      <Panel rows={SOCOL_HIGH} col={1} row={2} />
      <Panel rows={ULAQ_LOW} col={0} row={3} />
      <Panel rows={ULAQ_HIGH} col={1} row={3} />
      <ColorBar />
      <Labels />
    </div>
  );
}
